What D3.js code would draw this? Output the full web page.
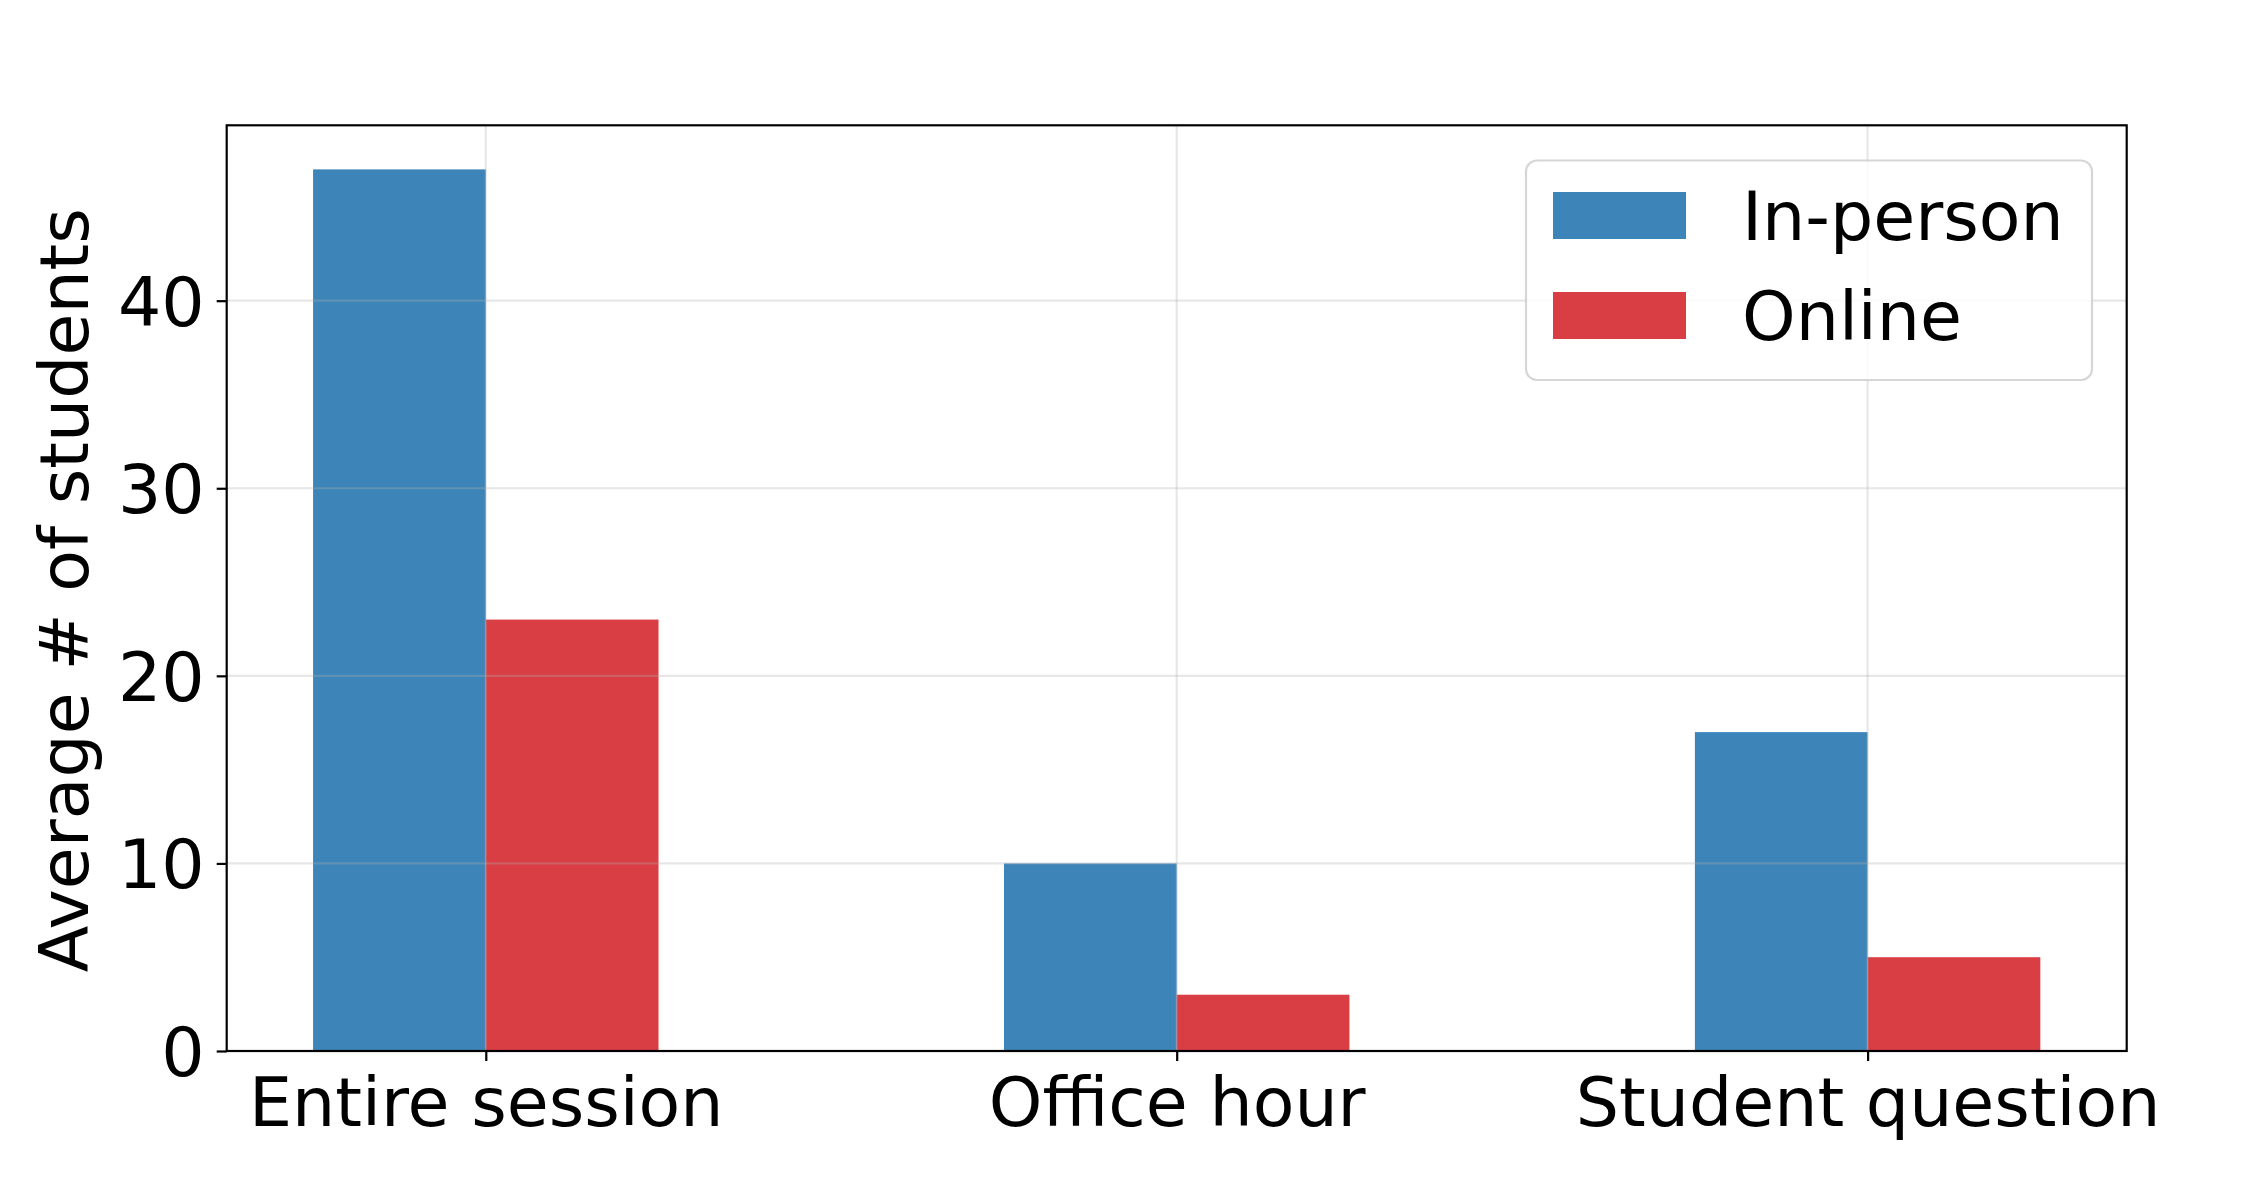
<!DOCTYPE html>
<html>
<head>
<meta charset="utf-8">
<script src="https://cdn.jsdelivr.net/npm/d3@7"></script>
<style>
  html, body { margin: 0; padding: 0; background: #fff; }
  svg { display: block; }
  text { font-family: "DejaVu Sans", sans-serif; fill: #000; }
</style>
</head>
<body>
<svg id="chart" width="2248" height="1196"></svg>
<script>
const categories = ["Entire session", "Office hour", "Student question"];
const seriesNames = ["In-person", "Online"];
const inPerson = [47, 10, 17];
const online = [23, 3, 5];
const yTicks = [0, 10, 20, 30, 40];
const colors = ["#3d85b8", "#d93e44"];

const W = 2248, H = 1196;
const M = { left: 226.7, right: 2126.7, top: 125.3, bottom: 1051 };
const FS = 68.2;
const barW = 0.25;

const svg = d3.select("#chart");

const x = d3.scaleLinear().domain([-0.375, 2.375]).range([M.left, M.right]);
const y = d3.scaleLinear().domain([0, 47 * 1.05]).range([M.bottom, M.top]);

const series = [inPerson, online];

// bars
const gBars = svg.append("g");
series.forEach((vals, s) => {
  gBars.selectAll(null).data(vals).enter().append("rect")
    .attr("x", (d, i) => x(i + (s === 0 ? -barW : 0)))
    .attr("width", x(barW) - x(0))
    .attr("y", d => y(d))
    .attr("height", d => y(0) - y(d))
    .attr("fill", colors[s]);
});

// grid (drawn above bars)
const gGrid = svg.append("g").attr("stroke", "#b0b0b0").attr("stroke-opacity", 0.3).attr("stroke-width", 2.2);
gGrid.selectAll(null).data(yTicks).enter().append("line")
  .attr("x1", M.left).attr("x2", M.right)
  .attr("y1", d => y(d)).attr("y2", d => y(d));
gGrid.selectAll(null).data(categories).enter().append("line")
  .attr("x1", (d, i) => x(i)).attr("x2", (d, i) => x(i))
  .attr("y1", M.top).attr("y2", M.bottom);

// axes
const yAxis = d3.axisLeft(y).tickValues(yTicks).tickFormat(d3.format("d")).tickSize(10).tickPadding(12);
const gy = svg.append("g").attr("transform", `translate(${M.left},0)`).call(yAxis);
gy.select(".domain").remove();
gy.selectAll(".tick line").attr("stroke", "#000").attr("stroke-width", 2.2);
gy.selectAll(".tick text").attr("font-size", FS).attr("font-family", "DejaVu Sans").attr("dy", "0.36em").attr("fill", "#000");

const xAxis = d3.axisBottom(x).tickValues([0, 1, 2]).tickFormat(i => categories[i]).tickSize(10).tickPadding(12);
const gx = svg.append("g").attr("transform", `translate(0,${M.bottom})`).call(xAxis);
gx.select(".domain").remove();
gx.selectAll(".tick line").attr("stroke", "#000").attr("stroke-width", 2.2);
gx.selectAll(".tick text").attr("font-size", FS).attr("font-family", "DejaVu Sans").attr("dy", null)
  .attr("y", 75).attr("fill", "#000");

// spines
svg.append("rect")
  .attr("x", M.left).attr("y", M.top)
  .attr("width", M.right - M.left).attr("height", M.bottom - M.top)
  .attr("fill", "none").attr("stroke", "#000").attr("stroke-width", 2.2);

// y label
svg.append("text")
  .attr("transform", `translate(88,${(M.top + M.bottom) / 2 + 2}) rotate(-90)`)
  .attr("text-anchor", "middle")
  .attr("font-size", FS)
  .text("Average # of students");

// legend
const lg = svg.append("g");
lg.append("rect")
  .attr("x", 1526).attr("y", 160.5).attr("width", 566).attr("height", 219.5)
  .attr("rx", 11).attr("ry", 11)
  .attr("fill", "rgba(255,255,255,0.8)")
  .attr("stroke", "#cccccc").attr("stroke-opacity", 0.8).attr("stroke-width", 2.2);
seriesNames.forEach((name, i) => {
  const base = 239 + i * 100;
  lg.append("rect").attr("x", 1553).attr("y", base - 47).attr("width", 133).attr("height", 47).attr("fill", colors[i]);
  lg.append("text").attr("x", 1742).attr("y", base + 1).attr("font-size", FS).text(name);
});
</script>
</body>
</html>
